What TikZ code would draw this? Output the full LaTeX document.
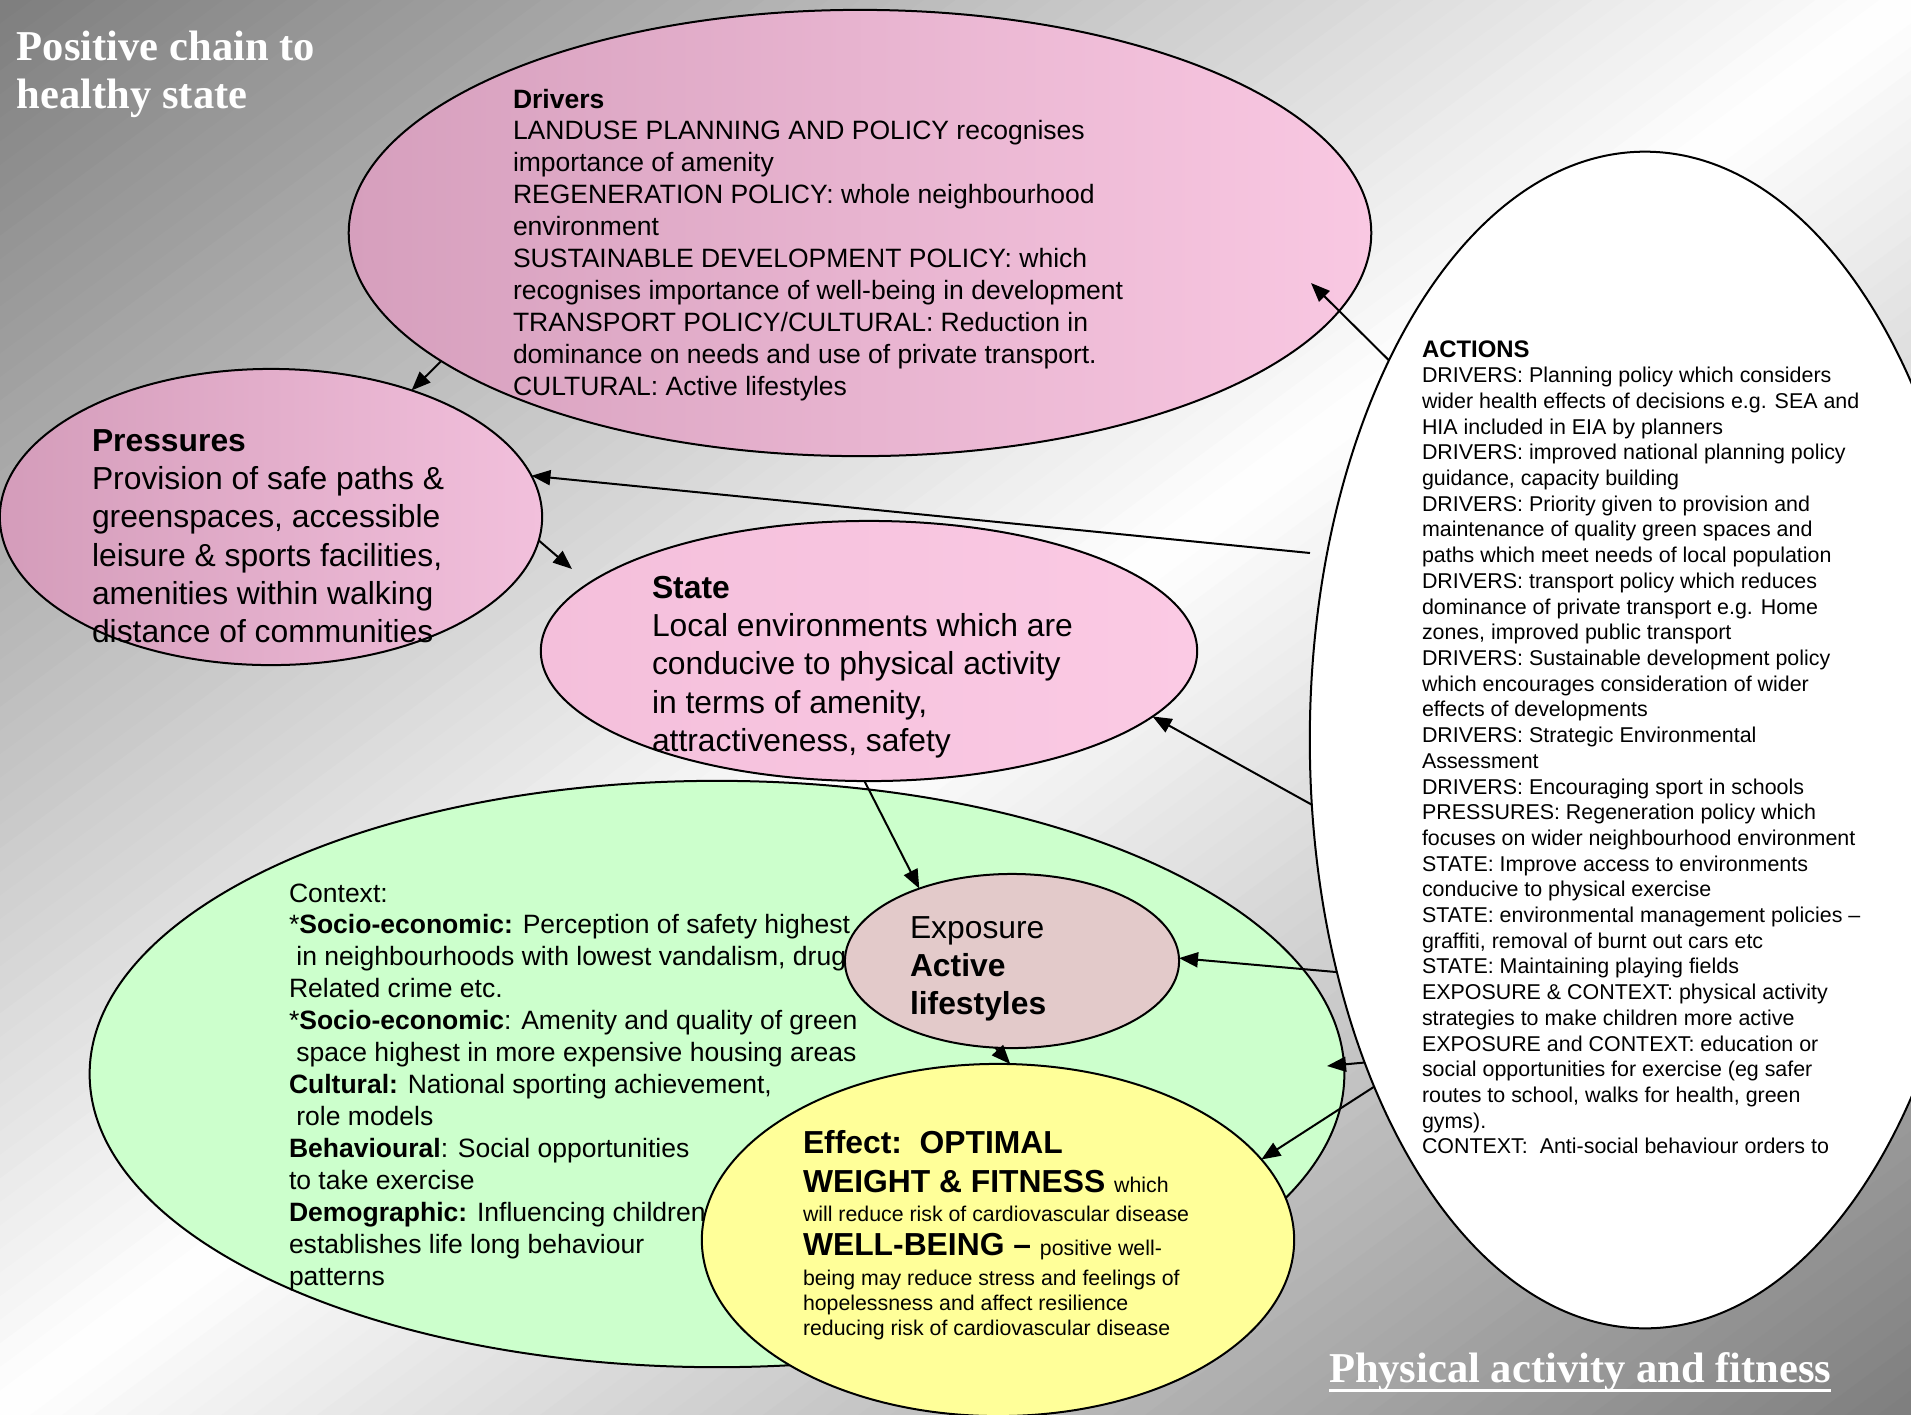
\documentclass[tikz,border=0pt]{standalone}
\usepackage{fontspec}
\setmainfont{Liberation Sans}
\newfontfamily\titlefont{Liberation Serif}
\usetikzlibrary{shapes.geometric,arrows.meta}
\definecolor{bgdark}{RGB}{126,126,126}
\definecolor{drvL}{RGB}{214,159,189}
\definecolor{drvR}{RGB}{249,200,226}
\definecolor{prsL}{RGB}{212,156,186}
\definecolor{prsR}{RGB}{242,192,220}
\definecolor{stL}{RGB}{244,191,219}
\definecolor{stR}{RGB}{251,202,228}
\definecolor{ctxgreen}{RGB}{204,255,204}
\definecolor{expfill}{RGB}{227,202,202}
\definecolor{efffill}{RGB}{255,255,153}
\newcommand\fsA{\fontsize{7.54pt}{9.08pt}\selectfont}
\newcommand\fsB{\fontsize{9.05pt}{10.9pt}\selectfont}
\newcommand\fsC{\fontsize{6.09pt}{7.31pt}\selectfont}
\newcommand\fsD{\fontsize{6.06pt}{7.2pt}\selectfont}
\newcommand\fsT{\fontsize{12.1pt}{13.66pt}\selectfont}
\newcommand\tblock[1]{\begin{tabular}[t]{@{}l@{}}#1\end{tabular}}
\tikzset{
  bub/.style={ellipse, draw=black, line width=0.02cm, inner sep=0pt, outer sep=0pt},
  txt/.style={anchor=base west, inner sep=0pt, outer sep=0pt, text=black},
  arr/.style={draw=black, line width=0.02cm, -{Triangle[length=0.19cm,width=0.15cm]}}
}
\begin{document}
\begin{tikzpicture}[x=0.01cm, y=-0.01cm]
\useasboundingbox (0,0) rectangle (1911,1414);
\clip (0,0) rectangle (1911,1414);
% background diagonal gradient
\foreach \i in {0,...,119} {
  \pgfmathsetmacro\sa{\i/60}
  \pgfmathsetmacro\sb{(\i+1.1)/60}
  \pgfmathsetmacro\pc{100*(1-abs((\i+0.5)/60-1))}
  \fill[white!\pc!bgdark] (\sa*1911,0) -- (\sb*1911,0) -- (0,\sb*1414) -- (0,\sa*1414) -- cycle;
}
% context (green)
\node[bub, fill=ctxgreen, minimum width=12.54cm, minimum height=5.86cm] (context) at (717,1074) {};
\node[txt, font=\fsA] (ctxtext) at (289,902) {\tblock{%
Context:\\
{*}\textbf{Socio-economic:} Perception of safety highest\\
\ in neighbourhoods with lowest vandalism, drug\\
Related crime etc.\\
{*}\textbf{Socio-economic}: Amenity and quality of green\\
\ space highest in more expensive housing areas\\
\textbf{Cultural:} National sporting achievement,\\
\ role models\\
\textbf{Behavioural}: Social opportunities\\
to take exercise\\
\textbf{Demographic:} Influencing children\\
establishes life long behaviour\\
patterns}};
% state
\node[bub, left color=stL, right color=stR, minimum width=6.56cm, minimum height=2.60cm] (state) at (869,651) {};
% pressures
\node[bub, left color=prsL, right color=prsR, minimum width=5.42cm, minimum height=2.96cm] (pressures) at (271,517) {};
% drivers
\node[bub, left color=drvL, right color=drvR, minimum width=10.22cm, minimum height=4.46cm] (drivers) at (860,233) {};
% exposure
\node[bub, fill=expfill, minimum width=3.34cm, minimum height=1.74cm] (exposure) at (1012,961) {};
% effect
\node[bub, fill=efffill, minimum width=5.92cm, minimum height=3.52cm] (effect) at (998,1240) {};
% actions
\node[bub, fill=white, minimum width=6.70cm, minimum height=11.76cm] (actions) at (1645,740) {};

% texts
\node[txt, font=\fsA] (drvtext) at (513,108) {\tblock{%
\textbf{Drivers}\\
LANDUSE PLANNING AND POLICY recognises\\
importance of amenity\\
REGENERATION POLICY: whole neighbourhood\\
environment\\
SUSTAINABLE DEVELOPMENT POLICY: which\\
recognises importance of well-being in development\\
TRANSPORT POLICY/CULTURAL: Reduction in\\
dominance on needs and use of private transport.\\
CULTURAL: Active lifestyles}};
\node[txt, font=\fsB] (prstext) at (92,451) {\tblock{%
\textbf{Pressures}\\
Provision of safe paths \&\\
greenspaces, accessible\\
leisure \& sports facilities,\\
amenities within walking\\
distance of communities}};
\node[txt, font=\fsB] (sttext) at (652,598) {\tblock{%
\textbf{State}\\
Local environments which are\\
conducive to physical activity\\
in terms of amenity,\\
attractiveness, safety}};
\node[txt, font=\fsB] (exptext) at (910,938) {\tblock{%
Exposure\\
\textbf{Active}\\
\textbf{lifestyles}}};
\node[txt, font=\fsB] (eff1) at (803,1153) {\textbf{Effect:\ \ OPTIMAL}};
\node[txt, font=\fsB] (eff2) at (803,1192) {\textbf{WEIGHT \& FITNESS} {\fsD which}};
\node[txt, font=\fsD] (eff3) at (803,1221) {will reduce risk of cardiovascular disease};
\node[txt, font=\fsB] (eff4) at (803,1255) {\textbf{WELL-BEING –} {\fsD positive well-}};
\node[txt, font=\fsD] (eff5) at (803,1285) {being may reduce stress and feelings of};
\node[txt, font=\fsD] (eff6) at (803,1310) {hopelessness and affect resilience};
\node[txt, font=\fsD] (eff7) at (803,1335) {reducing risk of cardiovascular disease};
\node[txt, font=\fsC] (acttext) at (1422,357) {\tblock{%
{\fontsize{6.8pt}{7.31pt}\selectfont\textbf{ACTIONS}}\\
DRIVERS: Planning policy which considers\\
wider health effects of decisions e.g. SEA and\\
HIA included in EIA by planners\\
DRIVERS: improved national planning policy\\
guidance, capacity building\\
DRIVERS: Priority given to provision and\\
maintenance of quality green spaces and\\
paths which meet needs of local population\\
DRIVERS: transport policy which reduces\\
dominance of private transport e.g. Home\\
zones, improved public transport\\
DRIVERS: Sustainable development policy\\
which encourages consideration of wider\\
effects of developments\\
DRIVERS: Strategic Environmental\\
Assessment\\
DRIVERS: Encouraging sport in schools\\
PRESSURES: Regeneration policy which\\
focuses on wider neighbourhood environment\\
STATE: Improve access to environments\\
conducive to physical exercise\\
STATE: environmental management policies –\\
graffiti, removal of burnt out cars etc\\
STATE: Maintaining playing fields\\
EXPOSURE \& CONTEXT: physical activity\\
strategies to make children more active\\
EXPOSURE and CONTEXT: education or\\
social opportunities for exercise (eg safer\\
routes to school, walks for health, green\\
gyms).\\
CONTEXT:\ \ Anti-social behaviour orders to}};
% titles
\node[txt, font=\titlefont\fsT\bfseries, text=white] (title) at (17,60) {\tblock{Positive chain to\\healthy state}};
\node[txt, font=\titlefont\fsT\bfseries, text=white] (subtitle) at (1329,1382) {Physical activity and fitness};
\draw[white, line width=0.03cm] ([yshift=-0.08cm]subtitle.base west) -- ([yshift=-0.08cm]subtitle.base east);

% connectors
\coordinate (sttip) at (572,569);
\coordinate (drtip) at (1311,283);
\coordinate (fstart) at (1310,553);
\coordinate (ctxtip) at (1327,1066);
\draw[arr] (drivers.197.3) -- (pressures.42.2);
\draw[arr] (pressures.-5.7) -- (sttip);
\draw[arr] (state.268.3) -- (exposure.142.5);
\draw[arr] (exposure.259.6) -- (effect.86);
\draw[arr] (actions.124.3) -- (drtip);
\draw[arr] (fstart) -- (pressures.9.2);
\draw[arr] (actions.191.8) -- (state.-13.1);
\draw[arr] (actions.217.2) -- (exposure.1.3);
\draw[arr] (actions.229.6) -- (ctxtip);
\draw[arr] (actions.232.9) -- (effect.17.9);
\end{tikzpicture}
\end{document}
